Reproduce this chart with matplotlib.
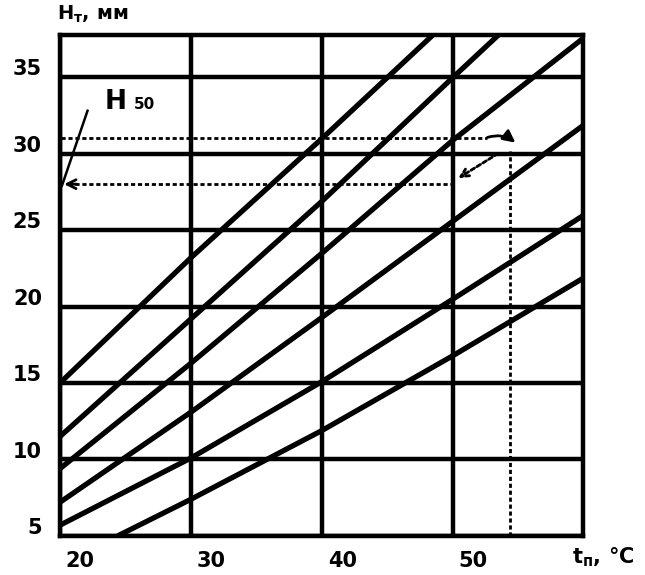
import numpy as np
import matplotlib.pyplot as plt
import matplotlib.transforms as mtransforms

# temperature t_n, deg C  vs  H_T, mm  (family of lines)
x_pts = [20, 30, 40, 50, 60]
line1 = [15.0, 23.2, 31.0, 39.0, 47.0]
line2 = [11.5, 19.2, 26.9, 35.0, 43.0]
line3 = [9.4, 16.3, 23.5, 30.9, 37.6]
line4 = [7.2, 13.1, 19.3, 25.6, 31.9]
line5 = [5.7, 10.1, 15.1, 20.5, 26.0]
x_line6 = [24.4, 30, 40, 50, 60]
line6 = [5.0, 7.4, 11.9, 16.8, 21.9]

xticks = [20, 30, 40, 50]
yticks = [5, 10, 15, 20, 25, 30, 35]

# example read-off (dotted helper lines)
t_ex = 54.3
h_upper = 31.0
h_lower = 28.0
h_ex_top = 30.2
t_lower_end = 50.2

plt.rcParams['font.family'] = ['DejaVu Sans']
plt.rcParams['font.weight'] = 'bold'

fig = plt.figure(figsize=(6.45, 5.75), dpi=100)
ax = fig.add_axes([0.093, 0.068, 0.811, 0.871])

for y in [line1, line2, line3, line4, line5]:
    ax.plot(x_pts, y, color='black', lw=3.8, solid_capstyle='butt', zorder=3)
ax.plot(x_line6, line6, color='black', lw=3.8, solid_capstyle='butt', zorder=3)

ax.set_xlim(20, 59.9)
ax.set_ylim(5, 37.75)
ax.set_xticks(xticks)
ax.set_yticks(yticks)
ax.grid(True, color='black', lw=3.2)
ax.set_axisbelow(True)
for s in ax.spines.values():
    s.set_linewidth(3.2)
ax.tick_params(length=0, labelsize=15)
ax.tick_params(axis='x', pad=11)
ax.tick_params(axis='y', pad=13)

for lab in ax.get_xticklabels():
    lab.set_horizontalalignment('left')
    lab.set_fontweight('bold')
    lab.set_transform(lab.get_transform() + mtransforms.ScaledTranslation(4/72, 0, fig.dpi_scale_trans))
for lab in ax.get_yticklabels():
    lab.set_fontweight('bold')
    lab.set_transform(lab.get_transform() + mtransforms.ScaledTranslation(0, 7/72, fig.dpi_scale_trans))

# dotted helper lines
dot = dict(color='black', lw=2.0, ls=(0, (1.5, 1.0)), zorder=4)
ax.plot([20.1, 52.6], [h_upper, h_upper], **dot)
ax.plot([t_ex, t_ex], [5, h_ex_top], **dot)
ax.plot([20.6, t_lower_end], [h_lower, h_lower], **dot)

ax.annotate('', xy=(54.9, 30.6), xytext=(52.4, h_upper),
            arrowprops=dict(arrowstyle='-|>', color='black', lw=2.0,
                            connectionstyle='arc3,rad=-0.3', mutation_scale=18))
ax.annotate('', xy=(t_lower_end, 28.3), xytext=(53.6, 30.1),
            arrowprops=dict(arrowstyle='->', color='black', lw=2.0, ls=(0, (1.5, 1.0)),
                            mutation_scale=14))
ax.annotate('', xy=(20.1, h_lower), xytext=(21.5, h_lower),
            arrowprops=dict(arrowstyle='->', color='black', lw=2.0, mutation_scale=16))

# H50 pointer
ax.plot([22.1, 20.15], [32.8, 27.9], color='black', lw=1.8, zorder=4)
ax.text(23.4, 32.9, 'H', fontsize=19, fontweight='bold', va='baseline', ha='left')
ax.text(25.6, 32.9, '50', fontsize=11, fontweight='bold', va='baseline', ha='left')

# axis titles
fig.text(57/645, 1 - 20/575, r'H$_\mathregular{т}$, мм', fontsize=14, fontweight='bold',
         ha='left', va='baseline')
fig.text(572/645, 1 - 563/575, r't$_\mathregular{п}$, °C', fontsize=15, fontweight='bold',
         ha='left', va='baseline')

plt.savefig('out.png', dpi=100)
